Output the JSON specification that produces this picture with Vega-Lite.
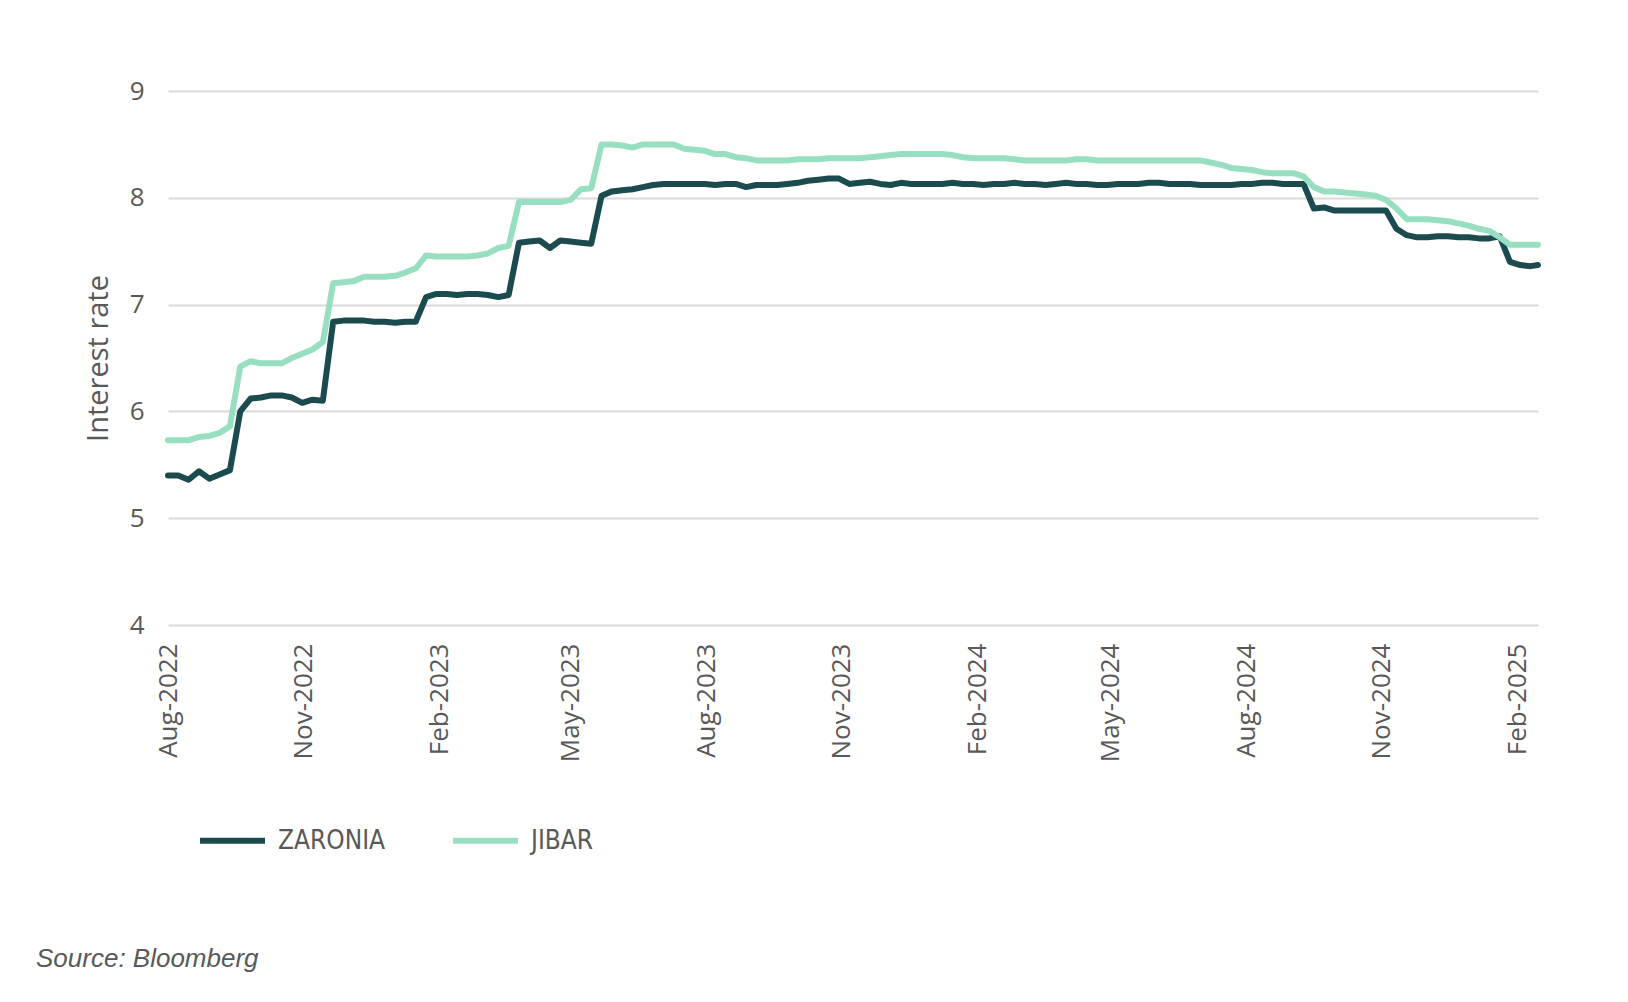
{
  "$schema": "https://vega.github.io/schema/vega-lite/v6.json",
  "width": 1370,
  "height": 534,
  "autosize": {"type": "none"},
  "padding": {"left": 168, "top": 91, "right": 90, "bottom": 377},
  "background": "white",
  "config": {
    "view": {"stroke": null},
    "font": "Open Sans"
  },
  "title": {
    "text": "Source: Bloomberg",
    "orient": "bottom",
    "anchor": "start",
    "frame": "group",
    "font": "Liberation Sans",
    "fontStyle": "italic",
    "fontWeight": "normal",
    "fontSize": 26,
    "color": "#595959",
    "dx": -132,
    "offset": 92
  },
  "data": {
    "values": [
      {"date": "2022-08-01", "ZARONIA": 5.40, "JIBAR": 5.73},
      {"date": "2022-08-08", "ZARONIA": 5.40, "JIBAR": 5.73},
      {"date": "2022-08-15", "ZARONIA": 5.36, "JIBAR": 5.73},
      {"date": "2022-08-22", "ZARONIA": 5.44, "JIBAR": 5.76},
      {"date": "2022-08-29", "ZARONIA": 5.37, "JIBAR": 5.77},
      {"date": "2022-09-05", "ZARONIA": 5.41, "JIBAR": 5.80},
      {"date": "2022-09-12", "ZARONIA": 5.45, "JIBAR": 5.86},
      {"date": "2022-09-19", "ZARONIA": 6.00, "JIBAR": 6.42},
      {"date": "2022-09-26", "ZARONIA": 6.12, "JIBAR": 6.47},
      {"date": "2022-10-03", "ZARONIA": 6.13, "JIBAR": 6.45},
      {"date": "2022-10-10", "ZARONIA": 6.15, "JIBAR": 6.45},
      {"date": "2022-10-17", "ZARONIA": 6.15, "JIBAR": 6.45},
      {"date": "2022-10-24", "ZARONIA": 6.13, "JIBAR": 6.50},
      {"date": "2022-10-31", "ZARONIA": 6.08, "JIBAR": 6.54},
      {"date": "2022-11-07", "ZARONIA": 6.11, "JIBAR": 6.58},
      {"date": "2022-11-14", "ZARONIA": 6.10, "JIBAR": 6.65},
      {"date": "2022-11-21", "ZARONIA": 6.84, "JIBAR": 7.20},
      {"date": "2022-11-28", "ZARONIA": 6.85, "JIBAR": 7.21},
      {"date": "2022-12-05", "ZARONIA": 6.85, "JIBAR": 7.22},
      {"date": "2022-12-12", "ZARONIA": 6.85, "JIBAR": 7.26},
      {"date": "2022-12-19", "ZARONIA": 6.84, "JIBAR": 7.26},
      {"date": "2022-12-26", "ZARONIA": 6.84, "JIBAR": 7.26},
      {"date": "2023-01-02", "ZARONIA": 6.83, "JIBAR": 7.27},
      {"date": "2023-01-09", "ZARONIA": 6.84, "JIBAR": 7.30},
      {"date": "2023-01-16", "ZARONIA": 6.84, "JIBAR": 7.34},
      {"date": "2023-01-23", "ZARONIA": 7.07, "JIBAR": 7.46},
      {"date": "2023-01-30", "ZARONIA": 7.10, "JIBAR": 7.45},
      {"date": "2023-02-06", "ZARONIA": 7.10, "JIBAR": 7.45},
      {"date": "2023-02-13", "ZARONIA": 7.09, "JIBAR": 7.45},
      {"date": "2023-02-20", "ZARONIA": 7.10, "JIBAR": 7.45},
      {"date": "2023-02-27", "ZARONIA": 7.10, "JIBAR": 7.46},
      {"date": "2023-03-06", "ZARONIA": 7.09, "JIBAR": 7.48},
      {"date": "2023-03-13", "ZARONIA": 7.07, "JIBAR": 7.53},
      {"date": "2023-03-20", "ZARONIA": 7.09, "JIBAR": 7.55},
      {"date": "2023-03-27", "ZARONIA": 7.58, "JIBAR": 7.96},
      {"date": "2023-04-03", "ZARONIA": 7.59, "JIBAR": 7.96},
      {"date": "2023-04-10", "ZARONIA": 7.60, "JIBAR": 7.96},
      {"date": "2023-04-17", "ZARONIA": 7.53, "JIBAR": 7.96},
      {"date": "2023-04-24", "ZARONIA": 7.60, "JIBAR": 7.96},
      {"date": "2023-05-01", "ZARONIA": 7.59, "JIBAR": 7.98},
      {"date": "2023-05-08", "ZARONIA": 7.58, "JIBAR": 8.08},
      {"date": "2023-05-15", "ZARONIA": 7.57, "JIBAR": 8.09},
      {"date": "2023-05-22", "ZARONIA": 8.02, "JIBAR": 8.50},
      {"date": "2023-05-29", "ZARONIA": 8.06, "JIBAR": 8.50},
      {"date": "2023-06-05", "ZARONIA": 8.07, "JIBAR": 8.49},
      {"date": "2023-06-12", "ZARONIA": 8.08, "JIBAR": 8.47},
      {"date": "2023-06-19", "ZARONIA": 8.10, "JIBAR": 8.50},
      {"date": "2023-06-26", "ZARONIA": 8.12, "JIBAR": 8.50},
      {"date": "2023-07-03", "ZARONIA": 8.13, "JIBAR": 8.50},
      {"date": "2023-07-10", "ZARONIA": 8.13, "JIBAR": 8.50},
      {"date": "2023-07-17", "ZARONIA": 8.13, "JIBAR": 8.46},
      {"date": "2023-07-24", "ZARONIA": 8.13, "JIBAR": 8.45},
      {"date": "2023-07-31", "ZARONIA": 8.13, "JIBAR": 8.44},
      {"date": "2023-08-07", "ZARONIA": 8.12, "JIBAR": 8.41},
      {"date": "2023-08-14", "ZARONIA": 8.13, "JIBAR": 8.41},
      {"date": "2023-08-21", "ZARONIA": 8.13, "JIBAR": 8.38},
      {"date": "2023-08-28", "ZARONIA": 8.10, "JIBAR": 8.37},
      {"date": "2023-09-04", "ZARONIA": 8.12, "JIBAR": 8.35},
      {"date": "2023-09-11", "ZARONIA": 8.12, "JIBAR": 8.35},
      {"date": "2023-09-18", "ZARONIA": 8.12, "JIBAR": 8.35},
      {"date": "2023-09-25", "ZARONIA": 8.13, "JIBAR": 8.35},
      {"date": "2023-10-02", "ZARONIA": 8.14, "JIBAR": 8.36},
      {"date": "2023-10-09", "ZARONIA": 8.16, "JIBAR": 8.36},
      {"date": "2023-10-16", "ZARONIA": 8.17, "JIBAR": 8.36},
      {"date": "2023-10-23", "ZARONIA": 8.18, "JIBAR": 8.37},
      {"date": "2023-10-30", "ZARONIA": 8.18, "JIBAR": 8.37},
      {"date": "2023-11-06", "ZARONIA": 8.13, "JIBAR": 8.37},
      {"date": "2023-11-13", "ZARONIA": 8.14, "JIBAR": 8.37},
      {"date": "2023-11-20", "ZARONIA": 8.15, "JIBAR": 8.38},
      {"date": "2023-11-27", "ZARONIA": 8.13, "JIBAR": 8.39},
      {"date": "2023-12-04", "ZARONIA": 8.12, "JIBAR": 8.40},
      {"date": "2023-12-11", "ZARONIA": 8.14, "JIBAR": 8.41},
      {"date": "2023-12-18", "ZARONIA": 8.13, "JIBAR": 8.41},
      {"date": "2023-12-25", "ZARONIA": 8.13, "JIBAR": 8.41},
      {"date": "2024-01-01", "ZARONIA": 8.13, "JIBAR": 8.41},
      {"date": "2024-01-08", "ZARONIA": 8.13, "JIBAR": 8.41},
      {"date": "2024-01-15", "ZARONIA": 8.14, "JIBAR": 8.40},
      {"date": "2024-01-22", "ZARONIA": 8.13, "JIBAR": 8.38},
      {"date": "2024-01-29", "ZARONIA": 8.13, "JIBAR": 8.37},
      {"date": "2024-02-05", "ZARONIA": 8.12, "JIBAR": 8.37},
      {"date": "2024-02-12", "ZARONIA": 8.13, "JIBAR": 8.37},
      {"date": "2024-02-19", "ZARONIA": 8.13, "JIBAR": 8.37},
      {"date": "2024-02-26", "ZARONIA": 8.14, "JIBAR": 8.36},
      {"date": "2024-03-04", "ZARONIA": 8.13, "JIBAR": 8.35},
      {"date": "2024-03-11", "ZARONIA": 8.13, "JIBAR": 8.35},
      {"date": "2024-03-18", "ZARONIA": 8.12, "JIBAR": 8.35},
      {"date": "2024-03-25", "ZARONIA": 8.13, "JIBAR": 8.35},
      {"date": "2024-04-01", "ZARONIA": 8.14, "JIBAR": 8.35},
      {"date": "2024-04-08", "ZARONIA": 8.13, "JIBAR": 8.36},
      {"date": "2024-04-15", "ZARONIA": 8.13, "JIBAR": 8.36},
      {"date": "2024-04-22", "ZARONIA": 8.12, "JIBAR": 8.35},
      {"date": "2024-04-29", "ZARONIA": 8.12, "JIBAR": 8.35},
      {"date": "2024-05-06", "ZARONIA": 8.13, "JIBAR": 8.35},
      {"date": "2024-05-13", "ZARONIA": 8.13, "JIBAR": 8.35},
      {"date": "2024-05-20", "ZARONIA": 8.13, "JIBAR": 8.35},
      {"date": "2024-05-27", "ZARONIA": 8.14, "JIBAR": 8.35},
      {"date": "2024-06-03", "ZARONIA": 8.14, "JIBAR": 8.35},
      {"date": "2024-06-10", "ZARONIA": 8.13, "JIBAR": 8.35},
      {"date": "2024-06-17", "ZARONIA": 8.13, "JIBAR": 8.35},
      {"date": "2024-06-24", "ZARONIA": 8.13, "JIBAR": 8.35},
      {"date": "2024-07-01", "ZARONIA": 8.12, "JIBAR": 8.35},
      {"date": "2024-07-08", "ZARONIA": 8.12, "JIBAR": 8.33},
      {"date": "2024-07-15", "ZARONIA": 8.12, "JIBAR": 8.31},
      {"date": "2024-07-22", "ZARONIA": 8.12, "JIBAR": 8.28},
      {"date": "2024-07-29", "ZARONIA": 8.13, "JIBAR": 8.27},
      {"date": "2024-08-05", "ZARONIA": 8.13, "JIBAR": 8.26},
      {"date": "2024-08-12", "ZARONIA": 8.14, "JIBAR": 8.24},
      {"date": "2024-08-19", "ZARONIA": 8.14, "JIBAR": 8.23},
      {"date": "2024-08-26", "ZARONIA": 8.13, "JIBAR": 8.23},
      {"date": "2024-09-02", "ZARONIA": 8.13, "JIBAR": 8.23},
      {"date": "2024-09-09", "ZARONIA": 8.13, "JIBAR": 8.20},
      {"date": "2024-09-16", "ZARONIA": 7.90, "JIBAR": 8.10},
      {"date": "2024-09-23", "ZARONIA": 7.91, "JIBAR": 8.06},
      {"date": "2024-09-30", "ZARONIA": 7.88, "JIBAR": 8.06},
      {"date": "2024-10-07", "ZARONIA": 7.88, "JIBAR": 8.05},
      {"date": "2024-10-14", "ZARONIA": 7.88, "JIBAR": 8.04},
      {"date": "2024-10-21", "ZARONIA": 7.88, "JIBAR": 8.03},
      {"date": "2024-10-28", "ZARONIA": 7.88, "JIBAR": 8.02},
      {"date": "2024-11-04", "ZARONIA": 7.88, "JIBAR": 7.98},
      {"date": "2024-11-11", "ZARONIA": 7.71, "JIBAR": 7.90},
      {"date": "2024-11-18", "ZARONIA": 7.65, "JIBAR": 7.80},
      {"date": "2024-11-25", "ZARONIA": 7.63, "JIBAR": 7.80},
      {"date": "2024-12-02", "ZARONIA": 7.63, "JIBAR": 7.80},
      {"date": "2024-12-09", "ZARONIA": 7.64, "JIBAR": 7.79},
      {"date": "2024-12-16", "ZARONIA": 7.64, "JIBAR": 7.78},
      {"date": "2024-12-23", "ZARONIA": 7.63, "JIBAR": 7.76},
      {"date": "2024-12-30", "ZARONIA": 7.63, "JIBAR": 7.74},
      {"date": "2025-01-06", "ZARONIA": 7.62, "JIBAR": 7.71},
      {"date": "2025-01-13", "ZARONIA": 7.62, "JIBAR": 7.69},
      {"date": "2025-01-20", "ZARONIA": 7.64, "JIBAR": 7.63},
      {"date": "2025-01-27", "ZARONIA": 7.40, "JIBAR": 7.56},
      {"date": "2025-02-03", "ZARONIA": 7.37, "JIBAR": 7.56},
      {"date": "2025-02-10", "ZARONIA": 7.36, "JIBAR": 7.56},
      {"date": "2025-02-15", "ZARONIA": 7.37, "JIBAR": 7.56}
    ]
  },
  "transform": [
    {"fold": ["ZARONIA", "JIBAR"], "as": ["series", "rate"]}
  ],
  "mark": {"type": "line", "strokeWidth": 6, "strokeJoin": "round", "strokeCap": "round"},
  "encoding": {
    "x": {
      "field": "date",
      "type": "temporal",
      "scale": {
        "type": "utc",
        "domain": [
          {"year": 2022, "month": 8, "date": 1, "utc": true},
          {"year": 2025, "month": 2, "date": 15, "utc": true}
        ]
      },
      "axis": {
        "title": null,
        "values": [
          {"year": 2022, "month": 8, "date": 1, "utc": true},
          {"year": 2022, "month": 11, "date": 1, "utc": true},
          {"year": 2023, "month": 2, "date": 1, "utc": true},
          {"year": 2023, "month": 5, "date": 1, "utc": true},
          {"year": 2023, "month": 8, "date": 1, "utc": true},
          {"year": 2023, "month": 11, "date": 1, "utc": true},
          {"year": 2024, "month": 2, "date": 1, "utc": true},
          {"year": 2024, "month": 5, "date": 1, "utc": true},
          {"year": 2024, "month": 8, "date": 1, "utc": true},
          {"year": 2024, "month": 11, "date": 1, "utc": true},
          {"year": 2025, "month": 2, "date": 1, "utc": true}
        ],
        "format": "%b-%Y",
        "labelAngle": -90,
        "labelFont": "Open Sans",
        "labelFontSize": 26,
        "labelColor": "#595959",
        "labelPadding": 18,
        "labelOverlap": false,
        "labelFlush": false,
        "domain": false,
        "ticks": false,
        "grid": false
      }
    },
    "y": {
      "field": "rate",
      "type": "quantitative",
      "scale": {"domain": [4, 9], "nice": false, "zero": false},
      "axis": {
        "title": "Interest rate",
        "titleFont": "Open Sans",
        "titleFontSize": 29,
        "titleFontWeight": "normal",
        "titleColor": "#595959",
        "titlePadding": 16,
        "values": [4, 5, 6, 7, 8, 9],
        "labelFont": "Open Sans",
        "labelFontSize": 26,
        "labelColor": "#595959",
        "labelPadding": 24,
        "domain": false,
        "ticks": false,
        "grid": true,
        "gridColor": "#d9d9d9",
        "gridWidth": 2
      }
    },
    "color": {
      "field": "series",
      "type": "nominal",
      "sort": ["ZARONIA", "JIBAR"],
      "scale": {"domain": ["ZARONIA", "JIBAR"], "range": ["#1b4b4f", "#98dfc1"]},
      "legend": {
        "title": null,
        "orient": "none",
        "direction": "horizontal",
        "legendX": 29,
        "legendY": 714,
        "symbolType": "stroke",
        "symbolSize": 4225,
        "symbolStrokeWidth": 6,
        "labelFont": "DejaVu Sans Condensed, Open Sans",
        "labelFontSize": 26,
        "labelColor": "#595959",
        "labelOffset": 10,
        "columnPadding": 55
      }
    }
  }
}
